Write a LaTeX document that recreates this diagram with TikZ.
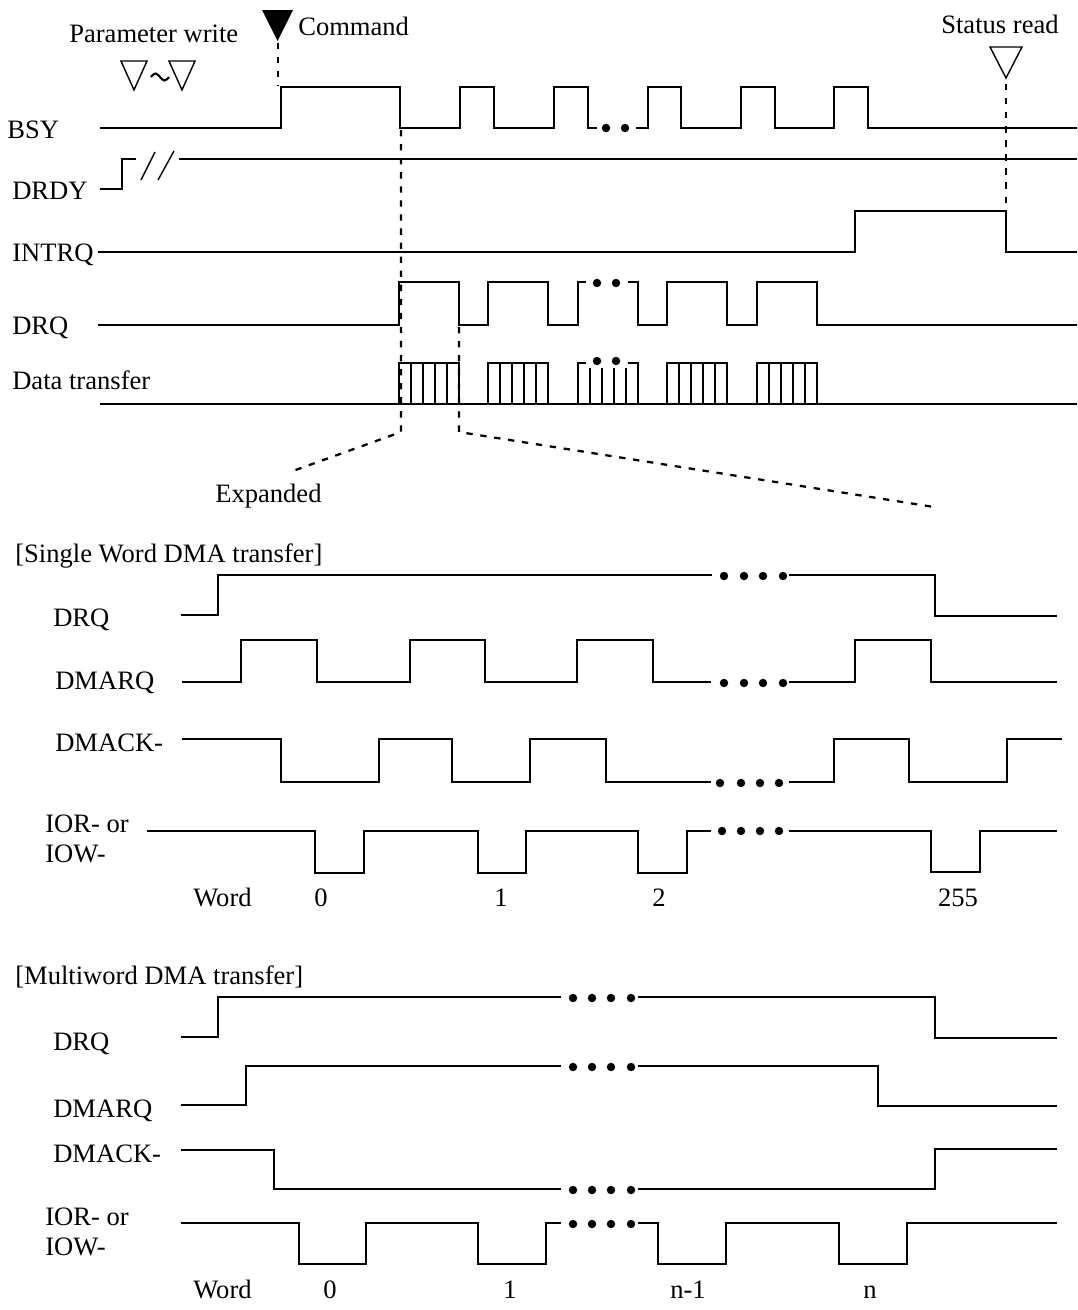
\documentclass[tikz,border=0pt]{standalone}
\usepackage{fontspec}
\setmainfont{Liberation Serif}
\usepackage{tikz}

\begin{document}
\begin{tikzpicture}[
  x=0.025cm, y=-0.025cm,
  font=\fontsize{18.9}{22}\selectfont,
  sig/.style={line width=1pt, line join=miter},
  guide/.style={line width=1.6pt, dash pattern=on 4.5pt off 5.5pt},
  lbl/.style={anchor=base west, inner sep=0pt},
  num/.style={anchor=base, inner sep=0pt},
  marker/.style={line width=1pt, line join=miter}
]
\useasboundingbox (0,0) rectangle (1078,1310);

% Markers at the top
\node[lbl] (parwrite) at (69,42) {Parameter write};
\draw[marker] (121,61) -- (147,61) -- (134,90) -- cycle;
\draw[line width=1.5pt] (151,77) sin (155.5,73.5) cos (160,77) sin (164.5,80.5) cos (169,77);
\draw[marker] (169,61) -- (195,61) -- (182,90) -- cycle;

\fill (262,10) -- (293,10) -- (277.5,41) -- cycle;
\node[lbl] (cmd) at (298,35) {Command};
\draw[guide] (278,43) -- (278,86);

\node[lbl] (status) at (941,33) {Status read};
\draw[marker] (990,47) -- (1022,47) -- (1006,78) -- cycle;
\draw[guide] (1006,84) -- (1006,210);

% Host side signals
\node[lbl] (bsy) at (7,138) {BSY};
\draw[sig] (100,128) -- (281,128) -- (281,87) -- (400,87) -- (400,128) -- (460,128) -- (460,87)
  -- (494,87) -- (494,128) -- (554,128) -- (554,87) -- (588,87) -- (588,128) -- (597,128);
\fill (606,128) circle (3pt) (625,128) circle (3pt);
\draw[sig] (636,128) -- (648,128) -- (648,87) -- (681,87) -- (681,128) -- (741,128) -- (741,87)
  -- (775,87) -- (775,128) -- (834,128) -- (834,87) -- (868,87) -- (868,128) -- (1077,128);

\node[lbl] (drdy) at (12,199) {DRDY};
\draw[sig] (100,189) -- (122,189) -- (122,159) -- (136,159);
\draw[sig] (141,180) -- (155,152);
\draw[sig] (158,180) -- (174,151);
\draw[sig] (179,159) -- (1077,159);

\node[lbl] (intrq) at (12,261) {INTRQ};
\draw[sig] (98,252) -- (855,252) -- (855,211) -- (1006,211) -- (1006,252) -- (1077,252);

\node[lbl] (drq) at (12,334) {DRQ};
\draw[sig] (98,325) -- (399,325) -- (399,282) -- (459,282) -- (459,325) -- (488,325) -- (488,282)
  -- (548,282) -- (548,325) -- (578,325) -- (578,282) -- (586,282);
\fill (597,283) circle (3pt) (616,283) circle (3pt);
\draw[sig] (628,282) -- (638,282) -- (638,325) -- (667,325) -- (667,282) -- (727,282) -- (727,325)
  -- (757,325) -- (757,282) -- (817,282) -- (817,325) -- (1077,325);

\node[lbl] (xfer) at (12,389) {Data transfer};
\draw[sig] (100,404) -- (1077,404);
\foreach \s in {399,488,667,757} {
  \draw[sig] (\s,404) -- (\s,363) -- (\s+60,363) -- (\s+60,404);
  \foreach \k in {1,2,3,4}
    \draw[sig] (\s+12*\k,363) -- (\s+12*\k,404);
}
\draw[sig] (578,404) -- (578,363) -- (586,363);
\draw[sig] (628,363) -- (638,363) -- (638,404);
\foreach \k in {1,2,3,4}
  \draw[sig] (578+12*\k,368) -- (578+12*\k,404);
\fill (597,361) circle (3pt) (616,361) circle (3pt);

% Expanded part
\draw[guide] (401,130) -- (401,432) -- (290,472);
\draw[guide] (459,327) -- (459,432) -- (934,507);
\node[lbl] (expanded) at (215,502) {Expanded};

% Single Word DMA
\node[lbl] (swtitle) at (15,562) {[Single Word DMA transfer]};

\node[lbl] (swdrq) at (53,626) {DRQ};
\draw[sig] (181,615) -- (218,615) -- (218,575) -- (712,575);
\fill (724,576) circle (3pt) (744,576) circle (3pt) (763,576) circle (3pt) (783,576) circle (3pt);
\draw[sig] (789,575) -- (935,575) -- (935,616) -- (1057,616);

\node[lbl] (swdmarq) at (55,689) {DMARQ};
\draw[sig] (182,682) -- (241,682) -- (241,640) -- (317,640) -- (317,682) -- (410,682) -- (410,640)
  -- (485,640) -- (485,682) -- (577,682) -- (577,640) -- (653,640) -- (653,682) -- (711,682);
\fill (724,683) circle (3pt) (744,683) circle (3pt) (763,683) circle (3pt) (783,683) circle (3pt);
\draw[sig] (789,682) -- (855,682) -- (855,640) -- (931,640) -- (931,682) -- (1057,682);

\node[lbl] (swdmack) at (55,751) {DMACK-};
\draw[sig] (182,739) -- (281,739) -- (281,782) -- (379,782) -- (379,739) -- (452,739) -- (452,782)
  -- (530,782) -- (530,739) -- (606,739) -- (606,782) -- (711,782);
\fill (720,783) circle (3pt) (741,783) circle (3pt) (760,783) circle (3pt) (779,783) circle (3pt);
\draw[sig] (789,782) -- (834,782) -- (834,739) -- (909,739) -- (909,782) -- (1007,782) -- (1007,739) -- (1062,739);

\node[lbl] (swior) at (45,832) {IOR- or};
\node[lbl] (swiow) at (45,862) {IOW-};
\draw[sig] (147,831) -- (315,831) -- (315,873) -- (364,873) -- (364,831) -- (478,831) -- (478,873)
  -- (526,873) -- (526,831) -- (638,831) -- (638,873) -- (687,873) -- (687,831) -- (711,831);
\fill (722,831) circle (3pt) (741,831) circle (3pt) (760,831) circle (3pt) (779,831) circle (3pt);
\draw[sig] (789,831) -- (931,831) -- (931,872) -- (980,872) -- (980,831) -- (1057,831);

\node[lbl] (swword) at (193,906) {Word};
\node[num] (sw0) at (321,906) {0};
\node[num] (sw1) at (501,906) {1};
\node[num] (sw2) at (659,906) {2};
\node[num] (sw255) at (958,906) {255};

% Multiword DMA
\node[lbl] (mwtitle) at (15,984) {[Multiword DMA transfer]};

\node[lbl] (mwdrq) at (53,1050) {DRQ};
\draw[sig] (181,1037) -- (218,1037) -- (218,997) -- (561,997);
\fill (573,998) circle (3pt) (592,998) circle (3pt) (611,998) circle (3pt) (631,998) circle (3pt);
\draw[sig] (638,997) -- (935,997) -- (935,1038) -- (1057,1038);

\node[lbl] (mwdmarq) at (53,1117) {DMARQ};
\draw[sig] (181,1105) -- (246,1105) -- (246,1066) -- (561,1066);
\fill (573,1067) circle (3pt) (592,1067) circle (3pt) (611,1067) circle (3pt) (631,1067) circle (3pt);
\draw[sig] (638,1066) -- (878,1066) -- (878,1106) -- (1057,1106);

\node[lbl] (mwdmack) at (53,1162) {DMACK-};
\draw[sig] (181,1150) -- (274,1150) -- (274,1189) -- (561,1189);
\fill (573,1190) circle (3pt) (592,1190) circle (3pt) (611,1190) circle (3pt) (631,1190) circle (3pt);
\draw[sig] (638,1189) -- (935,1189) -- (935,1149) -- (1057,1149);

\node[lbl] (mwior) at (45,1225) {IOR- or};
\node[lbl] (mwiow) at (45,1255) {IOW-};
\draw[sig] (181,1223) -- (299,1223) -- (299,1264) -- (366,1264) -- (366,1223) -- (478,1223) -- (478,1264)
  -- (546,1264) -- (546,1223) -- (561,1223);
\fill (573,1224) circle (3pt) (592,1224) circle (3pt) (611,1224) circle (3pt) (631,1224) circle (3pt);
\draw[sig] (638,1223) -- (658,1223) -- (658,1264) -- (726,1264) -- (726,1223) -- (839,1223) -- (839,1264)
  -- (907,1264) -- (907,1223) -- (1057,1223);

\node[lbl] (mwword) at (193,1298) {Word};
\node[num] (mw0) at (330,1298) {0};
\node[num] (mw1) at (510,1298) {1};
\node[num] (mwn1) at (688,1298) {n-1};
\node[num] (mwn) at (870,1298) {n};

\end{tikzpicture}
\end{document}
